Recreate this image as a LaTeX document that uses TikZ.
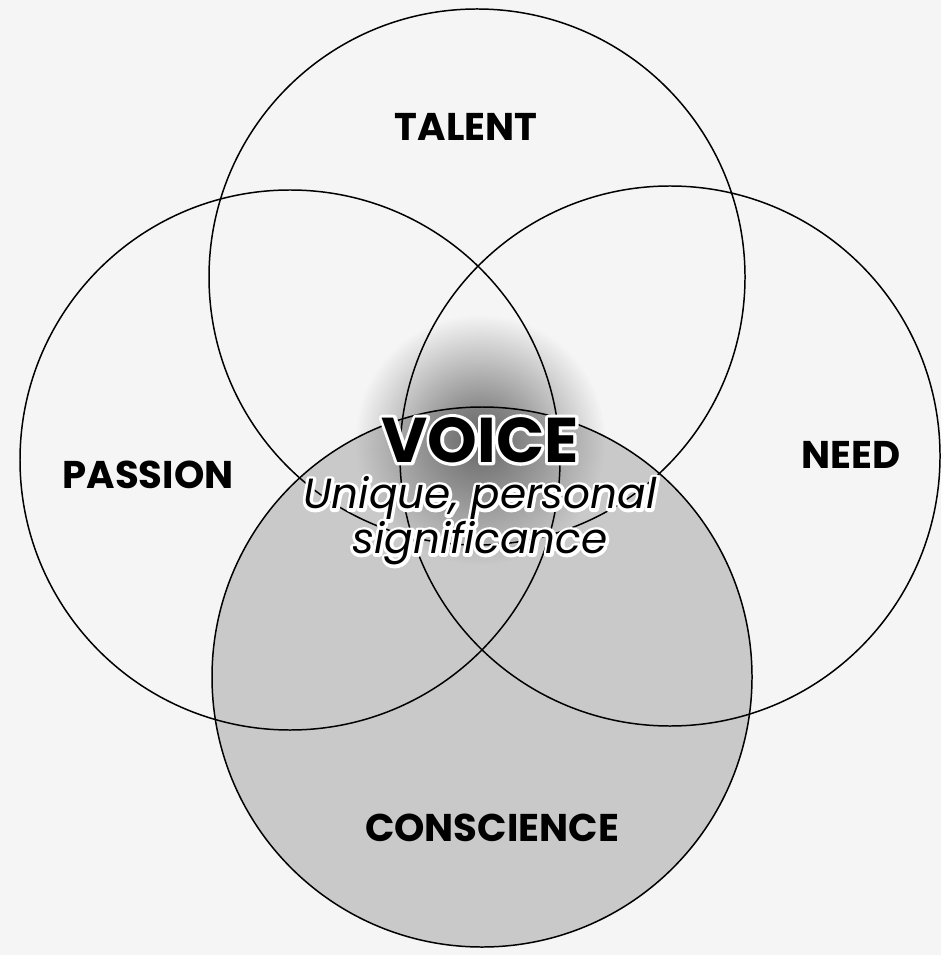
\documentclass[tikz,border=0pt]{standalone}
\usepackage{fontspec}
\setmainfont{Poppins}
\usetikzlibrary{fadings}
\tikzfading[name=blob, inner color=transparent!0, outer color=transparent!100]
\newcommand{\ring}[2]{\draw[ringline] (#1) circle (#2);}
% white stroked copy of a text, to lie under the black one
\newcommand{\halo}[1]{\special{pdf:literal direct 1 Tr 3.6 w 1 j 1 1 1 RG}#1\special{pdf:literal direct 0 Tr}}

\begin{document}
\begin{tikzpicture}[x=0.02cm,y=-0.02cm,
    ringline/.style={black, line width=0.85pt},
    label/.style={font=\bfseries\fontsize{22}{22}\selectfont, inner sep=0pt},
    big/.style={inner sep=0pt, font=\bfseries\fontsize{36}{36}\selectfont},
    sub/.style={inner sep=0pt, align=center, font=\itshape\fontsize{24}{23}\selectfont}]
  \useasboundingbox[fill=black!4] (0,0) rectangle (941,955);
  % circle centres
  \coordinate (T) at (477,277);
  \coordinate (P) at (290,460);
  \coordinate (N) at (670,456);
  \coordinate (C) at (482,677);
  % conscience fill and dark core
  \fill[black!21] (C) circle (270);
  \fill[black!60, path fading=blob] (480,440) circle (125);
  \ring{T}{268} \ring{P}{270} \ring{N}{270} \ring{C}{270}
  % labels
  \node[label] (talent) at (466,127) {TALENT};
  \node[label] (passion) at (148,475) {PASSION};
  \node[label] (need) at (851,455) {NEED};
  \node[label] (conscience) at (492,828) {CONSCIENCE};
  \node[big] (voicehalo) at (480,440) {\halo{VOICE}};
  \node[big] (voice) at (480,440) {VOICE};
  \node[sub] (meaninghalo) at (480,521) {\halo{Unique, personal}\\\halo{significance}};
  \node[sub] (meaning) at (480,521) {Unique, personal\\significance};
\end{tikzpicture}
\end{document}
